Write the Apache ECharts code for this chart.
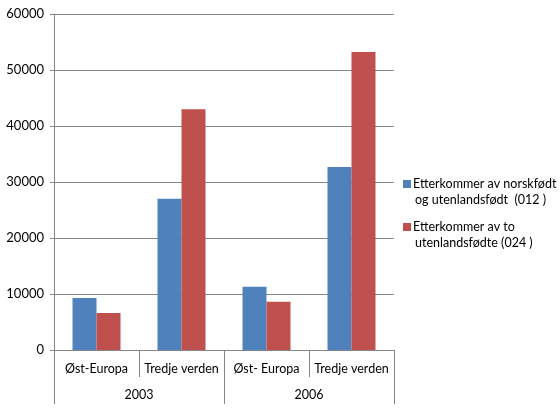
<!DOCTYPE html>
<html><head><meta charset="utf-8">
<script src="https://cdn.jsdelivr.net/npm/echarts@6/dist/echarts.min.js"></script>
<style>html,body{margin:0;padding:0;background:#fff}#c{width:560px;height:420px}</style>
</head><body><div id="c"></div>
<script>
const categories = ['Øst-Europa', 'Tredje verden', 'Øst- Europa', 'Tredje verden'];
const years = ['2003', '2006'];
const seriesNames = ['Etterkommer av norskfødt og utenlandsfødt  (012 )', 'Etterkommer av to utenlandsfødte (024 )'];
const legendLines = [['Etterkommer av norskfødt', 'og utenlandsfødt  (012 )'], ['Etterkommer av to', 'utenlandsfødte (024 )']];
const values012 = [9300, 27000, 11300, 32700];
const values024 = [6600, 43000, 8600, 53200];
const yTicks = [0, 10000, 20000, 30000, 40000, 50000, 60000];
const colors = ['#4F81BD', '#C0504D'];

const font = 'Lato, "Liberation Sans", sans-serif';
const gray = '#868686';
const chart = echarts.init(document.getElementById('c'), null, {renderer: 'canvas'});
chart.setOption({
  animation: false,
  color: colors,
  textStyle: {fontFamily: font},
  grid: {left: 54, right: 166, top: 14, bottom: 70, containLabel: false},
  legend: {
    orient: 'vertical', left: 398, top: 176, itemGap: 11, padding: 0,
    icon: 'rect', itemWidth: 0, itemHeight: 0,
    data: seriesNames,
    formatter: function (name) {
      const i = seriesNames.indexOf(name);
      const sq = i === 0 ? '{b|}' : '{r|}';
      return sq + '{t|' + legendLines[i][0] + '}\n{sp|}{t|' + legendLines[i][1] + '}';
    },
    textStyle: {
      fontFamily: font, fontSize: 12.5, color: '#000', lineHeight: 16,
      rich: {
        b: {width: 8, height: 8, backgroundColor: colors[0], padding: 0},
        r: {width: 8, height: 8, backgroundColor: colors[1], padding: 0},
        sp: {width: 10},
        t: {fontFamily: font, fontSize: 12.5, color: '#000', lineHeight: 16, padding: [0, 0, 0, 2]}
      }
    }
  },
  xAxis: [
    {
      type: 'category', data: categories, position: 'bottom', gridIndex: 0,
      axisLine: {show: true, lineStyle: {color: gray, width: 1}},
      axisTick: {show: true, length: 27, interval: 0, lineStyle: {color: gray}},
      axisLabel: {interval: 0, margin: 12, fontSize: 12.5, color: '#000', fontFamily: font},
      splitLine: {show: false}
    },
    {
      type: 'category', data: years, position: 'bottom', gridIndex: 0,
      axisLine: {show: false},
      axisTick: {show: true, length: 54, interval: 0, lineStyle: {color: gray}},
      axisLabel: {interval: 0, margin: 38, fontSize: 12.5, color: '#000', fontFamily: font},
      splitLine: {show: false}
    }
  ],
  yAxis: {
    type: 'value', min: yTicks[0], max: yTicks[yTicks.length - 1], interval: yTicks[1] - yTicks[0],
    axisLine: {show: true, lineStyle: {color: gray}},
    axisTick: {show: true, length: 4, lineStyle: {color: gray}},
    axisLabel: {margin: 10, fontSize: 13, color: '#000', fontFamily: font, formatter: function (v) { return String(v); }},
    splitLine: {show: true, lineStyle: {color: gray, width: 1}}
  },
  series: [
    {name: seriesNames[0], type: 'bar', xAxisIndex: 0, data: values012, barWidth: 24, barGap: '0%'},
    {name: seriesNames[1], type: 'bar', xAxisIndex: 0, data: values024, barWidth: 24, barGap: '0%'}
  ]
});
</script>
</body></html>
